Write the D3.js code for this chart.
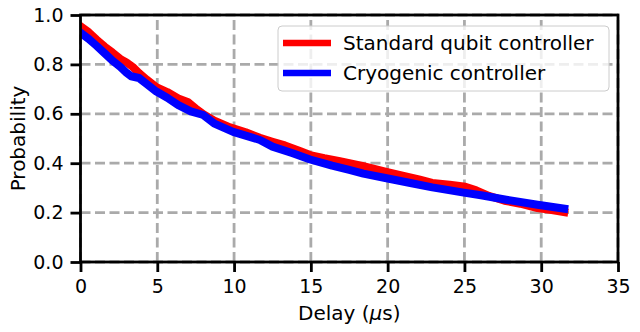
<!DOCTYPE html>
<html><head><meta charset="utf-8">
<script src="https://cdn.jsdelivr.net/npm/d3@7"></script>
<style>
html,body{margin:0;padding:0;background:#fff;}
svg{display:block;font-family:"DejaVu Sans",sans-serif;}
</style></head>
<body><svg id="c" width="640" height="332"></svg>
<script>
const seriesNames = ["Standard qubit controller", "Cryogenic controller"];
const seriesColors = ["#ff0000", "#0000ff"];
const standardX = [0,0.54,1.05,1.57,2.08,2.59,3.0,3.4,3.81,4.32,4.94,5.65,6.37,6.98,7.49,8.0,8.72,9.74,10.76,11.68,12.5,13.31,14.33,14.95,15.87,16.89,17.5,18.42,19.85,20.97,22.1,22.9,24.04,25.06,25.77,26.59,27.61,28.64,29.76,30.68,31.5];
const standardY = [0.955,0.93,0.90,0.872,0.848,0.822,0.808,0.79,0.765,0.738,0.708,0.688,0.662,0.648,0.622,0.598,0.572,0.545,0.525,0.503,0.487,0.472,0.448,0.433,0.42,0.408,0.40,0.388,0.366,0.35,0.333,0.32,0.313,0.305,0.29,0.268,0.248,0.236,0.218,0.21,0.202];
const cryoX = [0,0.54,1.05,1.57,2.08,2.59,3.0,3.3,3.81,4.32,4.94,5.65,6.37,7.18,8.0,8.72,9.94,11.68,12.5,13.82,14.95,16.38,17.5,18.42,19.85,21.48,22.91,24.96,26.08,27.72,29.76,31.5];
const cryoY = [0.928,0.903,0.875,0.845,0.815,0.79,0.766,0.752,0.745,0.72,0.69,0.665,0.635,0.61,0.595,0.56,0.527,0.494,0.467,0.44,0.415,0.39,0.373,0.358,0.34,0.32,0.302,0.281,0.27,0.252,0.232,0.216];
const xTicks = [0,5,10,15,20,25,30,35];
const yTicks = [0.0,0.2,0.4,0.6,0.8,1.0];

const svg = d3.select("#c");
const L = 80.5, R = 618, T = 15, B = 262;
const FS = 20, TFS = 19;
const x = d3.scaleLinear().domain([0,35]).range([L,R]);
const y = d3.scaleLinear().domain([0,1]).range([B,T]);

svg.append("defs").append("clipPath").attr("id","clip")
  .append("rect").attr("x",L).attr("y",T).attr("width",R-L).attr("height",B-T);

// grid
const grid = svg.append("g").attr("stroke","#aaaaaa").attr("stroke-width",2.8).attr("stroke-dasharray","10,4.5");
xTicks.forEach(t=>grid.append("line").attr("x1",x(t)).attr("x2",x(t)).attr("y1",B).attr("y2",T));
yTicks.forEach(t=>grid.append("line").attr("x1",L).attr("x2",R).attr("y1",y(t)).attr("y2",y(t)));

// lines
const line = d3.line().x(d=>x(d[0])).y(d=>y(d[1]));
const data = [d3.zip(standardX, standardY), d3.zip(cryoX, cryoY)];
const lg = svg.append("g").attr("clip-path","url(#clip)");
data.forEach((d,i)=>{
  lg.append("path").datum(d).attr("d",line).attr("fill","none")
    .attr("stroke",seriesColors[i]).attr("stroke-width",8)
    .attr("stroke-linejoin","round").attr("stroke-linecap","square");
});

// axes
const xAxis = svg.append("g").attr("transform",`translate(0,${B})`)
  .call(d3.axisBottom(x).tickValues(xTicks).tickSize(10).tickPadding(8).tickFormat(d3.format("d")));
const yAxis = svg.append("g").attr("transform",`translate(${L},0)`)
  .call(d3.axisLeft(y).tickValues(yTicks).tickSize(10).tickPadding(7).tickFormat(d3.format(".1f")));
[xAxis,yAxis].forEach(a=>{
  a.select(".domain").remove();
  a.selectAll(".tick line").attr("stroke","#000").attr("stroke-width",2.8);
  a.selectAll(".tick text").attr("fill","#000").attr("font-size",TFS).attr("font-family","DejaVu Sans");
});
// spines
svg.append("rect").attr("x",L).attr("y",T).attr("width",R-L).attr("height",B-T)
  .attr("fill","none").attr("stroke","#000").attr("stroke-width",2.8);

// labels
svg.append("text").attr("x",(L+R)/2).attr("y",320).attr("text-anchor","middle").attr("font-size",FS)
  .html('Delay (<tspan font-style="italic">μ</tspan>s)');
svg.append("text").attr("transform",`translate(25,${(T+B)/2}) rotate(-90)`).attr("text-anchor","middle")
  .attr("font-size",FS).text("Probability");

// legend
const leg = svg.append("g");
leg.append("rect").attr("x",278).attr("y",26).attr("width",331).attr("height",65).attr("rx",4)
  .attr("fill","#fff").attr("fill-opacity",0.8).attr("stroke","#cccccc").attr("stroke-width",1);
seriesNames.forEach((n,i)=>{
  const yy = 43 + i*30;
  leg.append("line").attr("x1",283).attr("x2",331).attr("y1",yy).attr("y2",yy)
    .attr("stroke",seriesColors[i]).attr("stroke-width",6.5);
  leg.append("text").attr("x",343).attr("y",yy+7).attr("font-size",FS).text(n);
});
</script></body></html>
